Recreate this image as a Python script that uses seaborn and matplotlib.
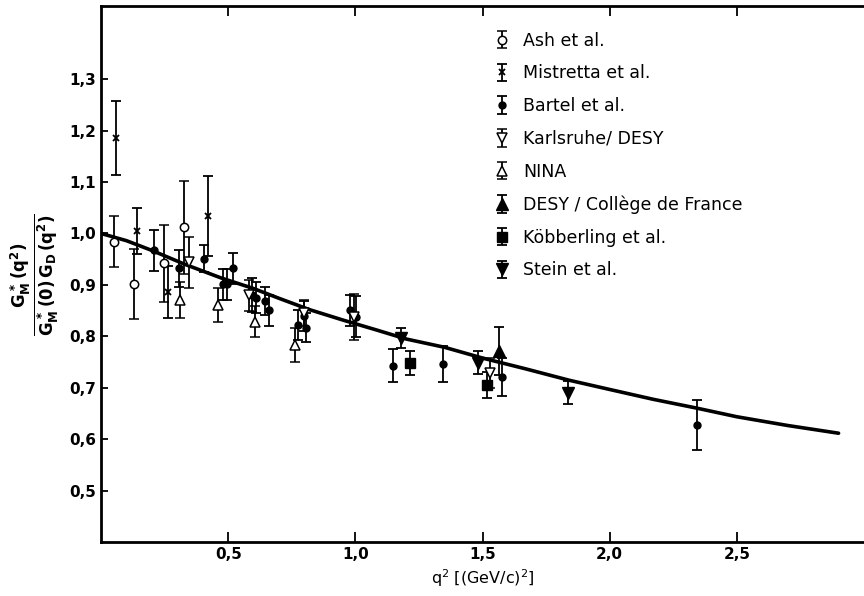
import matplotlib
matplotlib.use('Agg')
import matplotlib.pyplot as plt
import numpy as np
import pandas as pd
import seaborn as sns

# fit curve
curve_q2 = [0, 0.1, 0.2, 0.33, 0.47, 0.6, 0.7, 0.82, 0.95, 1.08, 1.2, 1.35, 1.5,
            1.67, 1.84, 2.0, 2.17, 2.34, 2.5, 2.7, 2.9]
curve_g = [1.0, 0.986, 0.967, 0.94, 0.914, 0.893, 0.874, 0.852, 0.832, 0.813, 0.795,
           0.779, 0.758, 0.737, 0.715, 0.697, 0.678, 0.661, 0.644, 0.627, 0.612]

# data sets: q2, value, error
ash_q2 = [0.049, 0.128, 0.246, 0.328]
ash_g = [0.984, 0.901, 0.942, 1.012]
ash_err = [0.05, 0.068, 0.075, 0.09]

mistretta_q2 = [0.058, 0.141, 0.263, 0.42]
mistretta_g = [1.185, 1.005, 0.886, 1.034]
mistretta_err = [0.072, 0.045, 0.05, 0.078]

bartel_q2 = [0.209, 0.307, 0.405, 0.479, 0.497, 0.517, 0.593, 0.61, 0.643, 0.662,
             0.774, 0.796, 0.806, 0.979, 1.003, 1.147, 1.346, 1.575, 2.342]
bartel_g = [0.967, 0.932, 0.951, 0.901, 0.901, 0.932, 0.881, 0.875, 0.869, 0.851,
            0.822, 0.839, 0.817, 0.851, 0.838, 0.743, 0.747, 0.721, 0.628]
bartel_err = [0.04, 0.035, 0.026, 0.03, 0.03, 0.03, 0.033, 0.03, 0.027, 0.03,
              0.029, 0.029, 0.028, 0.03, 0.04, 0.032, 0.035, 0.037, 0.048]

karlsruhe_q2 = [0.347, 0.58, 0.796, 0.993, 1.53]
karlsruhe_g = [0.944, 0.88, 0.845, 0.838, 0.729]
karlsruhe_err = [0.05, 0.03, 0.025, 0.045, 0.03]

nina_q2 = [0.312, 0.458, 0.606, 0.761]
nina_g = [0.871, 0.861, 0.829, 0.784]
nina_err = [0.035, 0.033, 0.03, 0.033]

desy_cdf_q2 = [1.565]
desy_cdf_g = [0.772]
desy_cdf_err = [0.046]

koebberling_q2 = [1.213, 1.516]
koebberling_g = [0.748, 0.706]
koebberling_err = [0.023, 0.025]

stein_q2 = [1.178, 1.481, 1.837]
stein_g = [0.797, 0.749, 0.691]
stein_err = [0.02, 0.022, 0.022]

x_ticks = [0.5, 1.0, 1.5, 2.0, 2.5]
x_ticklabels = ['0,5', '1,0', '1,5', '2,0', '2,5']
y_ticks = [0.5, 0.6, 0.7, 0.8, 0.9, 1.0, 1.1, 1.2, 1.3]
y_ticklabels = ['0,5', '0,6', '0,7', '0,8', '0,9', '1,0', '1,1', '1,2', '1,3']

sns.set_style('ticks')
plt.rcParams['font.family'] = ['DejaVu Sans']
plt.rcParams['mathtext.fontset'] = 'dejavusans'
plt.rcParams['text.color'] = 'black'
plt.rcParams['axes.labelcolor'] = 'black'

fig = plt.figure(figsize=(8.64, 5.96), dpi=100)
ax = fig.add_axes([0.117, 0.09, 0.883, 0.9])

curve = pd.DataFrame({'q2': curve_q2, 'g': curve_g})
sns.lineplot(data=curve, x='q2', y='g', ax=ax, color='black', linewidth=2.6, zorder=2)

err_kw = dict(color='black', ecolor='black', elinewidth=1.3, capsize=3.5,
              capthick=1.3, linestyle='none', zorder=3)
series = [
    ('Ash et al.', ash_q2, ash_g, ash_err, dict(marker='o', ms=6, mfc='white', mew=1.1)),
    ('Mistretta et al.', mistretta_q2, mistretta_g, mistretta_err, dict(marker='x', ms=5, mew=1.3)),
    ('Bartel et al.', bartel_q2, bartel_g, bartel_err, dict(marker='o', ms=5)),
    ('Karlsruhe/ DESY', karlsruhe_q2, karlsruhe_g, karlsruhe_err, dict(marker='v', ms=7, mfc='white', mew=1.1)),
    ('NINA', nina_q2, nina_g, nina_err, dict(marker='^', ms=7, mfc='white', mew=1.1)),
    ('DESY / Collège de France', desy_cdf_q2, desy_cdf_g, desy_cdf_err, dict(marker='^', ms=8)),
    ('Köbberling et al.', koebberling_q2, koebberling_g, koebberling_err, dict(marker='s', ms=7)),
    ('Stein et al.', stein_q2, stein_g, stein_err, dict(marker='v', ms=9)),
]
handles = []
for label, xs, ys, es, mk in series:
    h = ax.errorbar(xs, ys, yerr=es, label=label, **err_kw, **mk)
    handles.append(h)

ax.set_xlim(0, 3.0)
ax.set_ylim(0.4, 1.442)
ax.set_xticks(x_ticks)
ax.set_xticklabels(x_ticklabels, fontsize=11, fontweight='bold')
ax.set_yticks(y_ticks)
ax.set_yticklabels(y_ticklabels, fontsize=11, fontweight='bold')
ax.tick_params(axis='both', direction='in', length=5, width=1.3, colors='black')
ax.tick_params(axis='x', top=True, labeltop=False, length=7)
ax.spines['right'].set_visible(False)
for s in ['left', 'bottom', 'top']:
    ax.spines[s].set_linewidth(2)
    ax.spines[s].set_color('black')

ax.set_xlabel(r'q$^2$ [(GeV/c)$^2$]', fontsize=11.5)
ax.set_ylabel(r'$\mathbf{\frac{G^{\,*}_M\,(q^2)}{G^{\,*}_M\,(0)\,G_D\,(q^2)}}$', fontsize=17, labelpad=6)

ax.legend(handles=handles, loc='upper left', bbox_to_anchor=(0.505, 0.965), frameon=False,
          fontsize=12.5, handlelength=1.0, handletextpad=0.7, labelspacing=0.85, borderaxespad=0)

plt.savefig('out.png', dpi=100)
